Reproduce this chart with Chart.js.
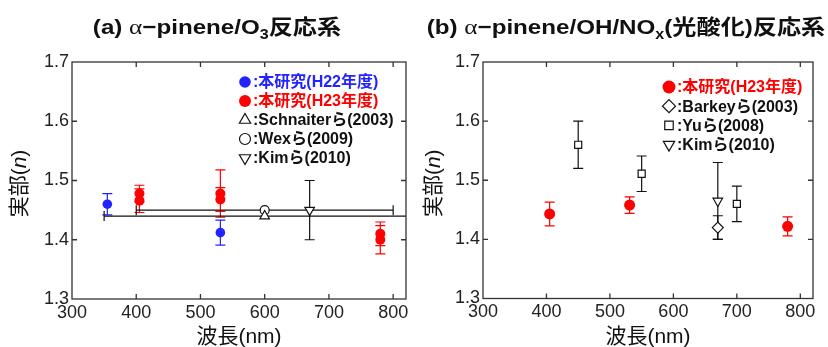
<!DOCTYPE html>
<html>
<head>
<meta charset="utf-8">
<script src="https://cdn.jsdelivr.net/npm/chart.js@4.4.0/dist/chart.umd.min.js"></script>
<style>
  body { margin: 0; background: #fff; }
  #wrap { display: flex; width: 828px; height: 347px; }
  canvas { display: block; }
</style>
</head>
<body>
<div id="wrap">
  <canvas id="chart-a" width="414" height="347"></canvas>
  <canvas id="chart-b" width="414" height="347"></canvas>
</div>
<script>
const xTicks = [300, 400, 500, 600, 700, 800]
const yTicks = [1.3, 1.4, 1.5, 1.6, 1.7]

// (a) O3 system: wavelength (nm), real part n, ± error
const aH22Wl = [355, 531]
const aH22N = [1.460, 1.412]
const aH22Err = [0.018, 0.021]

const aH23Wl = [405, 405, 531, 531, 780, 780]
const aH23N = [1.478, 1.466, 1.478, 1.468, 1.410, 1.400]
const aH23Err = [0.014, 0.020, 0.040, 0.020, 0.020, 0.024]

const aSchnaiterWl = [600]
const aSchnaiterN = [1.44]
const aSchnaiterRange = [[350, 850]]

const aWexWl = [600]
const aWexN = [1.45]
const aWexRange = [[400, 800]]

const aKimWl = [670]
const aKimN = [1.45]
const aKimErr = [0.05]

// (b) OH/NOx photo-oxidation system
const bH23Wl = [405, 531, 780]
const bH23N = [1.443, 1.458, 1.422]
const bH23Err = [0.020, 0.014, 0.016]

const bBarkeyWl = [670]
const bBarkeyN = [1.42]
const bBarkeyErr = [0.02]

const bYuWl = [450, 550, 700]
const bYuN = [1.56, 1.511, 1.46]
const bYuErr = [0.04, 0.03, 0.03]

const bKimWl = [670]
const bKimN = [1.465]
const bKimErr = [0.065]

const lblH22 = ':本研究(H22年度)'
const lblH23 = ':本研究(H23年度)'
const lblSchnaiter = ':Schnaiterら(2003)'
const lblWex = ':Wexら(2009)'
const lblKim = ':Kimら(2010)'
const lblBarkey = ':Barkeyら(2003)'
const lblYu = ':Yuら(2008)'

const BLUE = 'rgb(35,35,255)'
const RED = 'rgb(255,0,0)'
const INK = '#111'
const SANS = '"Liberation Sans", "Noto Sans CJK JP", sans-serif'

const pts = (wl, n) => wl.map((x, i) => ({ x, y: n[i] }))

function filled(label, wl, n, err, color, r) {
  return {
    label, data: pts(wl, n), err, textColor: color, borderColor: color,
    pointStyle: 'circle', pointRadius: r, pointBorderWidth: 0,
    pointBackgroundColor: color, pointBorderColor: color
  }
}

function open(label, wl, n, style, r, extra) {
  return Object.assign({
    label, data: pts(wl, n), textColor: INK, borderColor: INK,
    pointStyle: style, pointRadius: r, pointBorderWidth: 1.2, pointRotation: 0,
    pointBackgroundColor: '#fff', pointBorderColor: INK
  }, extra)
}

function line(ctx, x0, y0, x1, y1) {
  ctx.moveTo(x0, y0)
  ctx.lineTo(x1, y1)
}

// vertical error bars and horizontal wavelength ranges, under the markers
const errorBars = {
  id: 'errorBars',
  beforeDatasetsDraw(chart) {
    const { ctx, chartArea: a, scales: { x, y } } = chart
    const cap = 5
    ctx.save()
    ctx.beginPath()
    ctx.rect(a.left, a.top, a.right - a.left, a.bottom - a.top)
    ctx.clip()
    chart.data.datasets.forEach(ds => {
      ctx.strokeStyle = ds.borderColor
      ctx.lineWidth = 1.2
      ctx.beginPath()
      ds.data.forEach((p, i) => {
        const px = x.getPixelForValue(p.x)
        const py = y.getPixelForValue(p.y)
        if (ds.err) {
          const y0 = y.getPixelForValue(p.y - ds.err[i])
          const y1 = y.getPixelForValue(p.y + ds.err[i])
          line(ctx, px, y0, px, y1)
          line(ctx, px - cap, y0, px + cap, y0)
          line(ctx, px - cap, y1, px + cap, y1)
        }
        if (ds.range) {
          const x0 = x.getPixelForValue(ds.range[i][0])
          const x1 = x.getPixelForValue(ds.range[i][1])
          line(ctx, x0, py, x1, py)
          line(ctx, x0, py - cap, x0, py + cap)
          line(ctx, x1, py - cap, x1, py + cap)
        }
      })
      ctx.stroke()
    })
    ctx.restore()
  }
}

// box around the plot with inward ticks on all four sides
const frame = {
  id: 'frame',
  afterDraw(chart) {
    const { ctx, chartArea: a, scales: { x, y } } = chart
    const t = 5
    ctx.save()
    ctx.strokeStyle = '#333'
    ctx.lineWidth = 1.3
    ctx.strokeRect(a.left, a.top, a.right - a.left, a.bottom - a.top)
    ctx.beginPath()
    xTicks.slice(1).forEach(v => {
      const px = x.getPixelForValue(v)
      line(ctx, px, a.bottom, px, a.bottom - t)
      line(ctx, px, a.top, px, a.top + t)
    })
    yTicks.slice(1, -1).forEach(v => {
      const py = y.getPixelForValue(v)
      line(ctx, a.left, py, a.left + t, py)
      line(ctx, a.right, py, a.right - t, py)
    })
    ctx.stroke()
    ctx.restore()
  }
}

// legend drawn inside the plot, one row per dataset
const inLegend = {
  id: 'inLegend',
  afterDraw(chart, args, opts) {
    const { ctx, chartArea: a } = chart
    ctx.save()
    ctx.font = 'bold 16px ' + SANS
    ctx.textBaseline = 'middle'
    chart.data.datasets.forEach((ds, i) => {
      const mx = a.left + opts.dx
      const my = a.top + opts.dy + i * opts.gap
      ctx.fillStyle = ds.pointBackgroundColor
      ctx.strokeStyle = ds.pointBorderColor
      ctx.lineWidth = ds.pointBorderWidth
      Chart.helpers.drawPoint(ctx, {
        pointStyle: ds.pointStyle, rotation: ds.pointRotation || 0,
        radius: ds.pointRadius + 1, borderWidth: ds.pointBorderWidth
      }, mx, my)
      ctx.fillStyle = ds.textColor
      ctx.fillText(ds.label, mx + 8, my + 1)
    })
    ctx.restore()
  }
}

function drawRich(ctx, parts, cx, cy, rot, sx) {
  ctx.save()
  ctx.translate(cx, cy)
  ctx.rotate(rot)
  ctx.scale(sx, 1)
  ctx.fillStyle = INK
  let w = 0
  parts.forEach(p => { ctx.font = p.font; w += ctx.measureText(p.text).width })
  let x = -w / 2
  parts.forEach(p => {
    ctx.font = p.font
    ctx.fillText(p.text, x, p.dy || 0)
    x += ctx.measureText(p.text).width
  })
  ctx.restore()
}

// chart heading and the y-axis name with an italic n
const richText = {
  id: 'richText',
  afterDraw(chart, args, opts) {
    const { ctx, chartArea: a } = chart
    ctx.textBaseline = 'alphabetic'
    drawRich(ctx, opts.title, opts.titleX, 34, 0, 1.15)
    ctx.textBaseline = 'middle'
    drawRich(ctx, [
      { text: '実部(', font: '21px ' + SANS },
      { text: 'n', font: 'italic 21px ' + SANS },
      { text: ')', font: '21px ' + SANS }
    ], 20, (a.top + a.bottom) / 2 + 3, -Math.PI / 2, 1)
  }
}

function heading(tag, tail, sub, rest) {
  const B = 'bold 21px ' + SANS
  return [
    { text: tag + ' ', font: B },
    { text: 'α', font: '22px "Liberation Serif", serif' },
    { text: tail, font: B },
    { text: sub, font: 'bold 14px ' + SANS, dy: 5 },
    { text: rest, font: B }
  ]
}

function makeChart(id, datasets, o) {
  return new Chart(document.getElementById(id), {
    type: 'scatter',
    data: { datasets },
    options: {
      responsive: false,
      animation: false,
      events: [],
      layout: { padding: { top: 62, right: o.padRight, left: 0, bottom: 0 } },
      scales: {
        x: {
          min: 300, max: 820,
          afterBuildTicks: s => { s.ticks = xTicks.map(value => ({ value })) },
          afterFit: s => { s.height = o.xHeight },
          grid: { display: false, drawTicks: false }, border: { display: false },
          ticks: { padding: 3, color: '#222', font: { size: 18, family: SANS } },
          title: {
            display: true, text: '波長(nm)', color: INK,
            font: { size: 21, family: SANS }, padding: { top: 0, bottom: -3 }
          }
        },
        y: {
          min: 1.3, max: 1.7,
          afterBuildTicks: s => { s.ticks = yTicks.map(value => ({ value })) },
          afterFit: s => { s.width = o.yWidth },
          grid: { display: false, drawTicks: false }, border: { display: false },
          ticks: {
            padding: 3, color: '#222', font: { size: 18, family: SANS },
            callback: v => v.toFixed(1)
          }
        }
      },
      plugins: {
        legend: { display: false },
        tooltip: { enabled: false },
        inLegend: o.legend,
        richText: { title: o.title, titleX: o.titleX }
      }
    },
    plugins: [errorBars, frame, inLegend, richText]
  })
}

makeChart('chart-a', [
  filled(lblH22, aH22Wl, aH22N, aH22Err, BLUE, 4.8),
  filled(lblH23, aH23Wl, aH23N, aH23Err, RED, 5),
  open(lblSchnaiter, aSchnaiterWl, aSchnaiterN, 'triangle', 5.5, { range: aSchnaiterRange }),
  open(lblWex, aWexWl, aWexN, 'circle', 4.5, { range: aWexRange }),
  open(lblKim, aKimWl, aKimN, 'triangle', 5.5, { err: aKimErr, pointRotation: 180 })
], {
  padRight: 8, xHeight: 48, yWidth: 72,
  legend: { dx: 173, dy: 20, gap: 19 },
  title: heading('(a)', '−pinene/O', '3', '反応系'), titleX: 217
})

makeChart('chart-b', [
  filled(lblH23, bH23Wl, bH23N, bH23Err, RED, 5.5),
  open(lblBarkey, bBarkeyWl, bBarkeyN, 'rectRot', 5.5, { err: bBarkeyErr }),
  open(lblYu, bYuWl, bYuN, 'rect', 5, { err: bYuErr }),
  open(lblKim, bKimWl, bKimN, 'triangle', 5.5, { err: bKimErr, pointRotation: 180 })
], {
  padRight: 15, xHeight: 48.5, yWidth: 69,
  legend: { dx: 186, dy: 25, gap: 19.2 },
  title: heading('(b)', '−pinene/OH/NO', 'x', '(光酸化)反応系'), titleX: 212
})
</script>
</body>
</html>
